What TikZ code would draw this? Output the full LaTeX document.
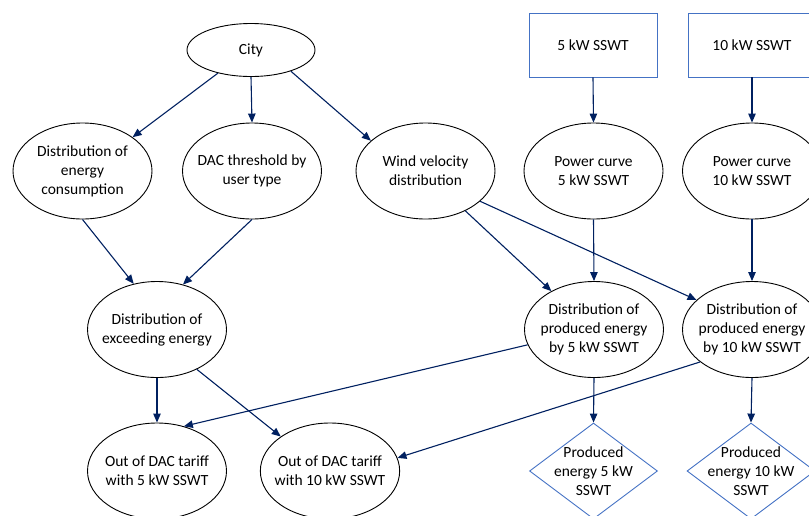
\documentclass[tikz,border=0pt]{standalone}
\usepackage{fontspec}
\setmainfont{Carlito}
\usetikzlibrary{arrows.meta,shapes.geometric}

\definecolor{navy}{RGB}{0,32,96}
\definecolor{boxblue}{RGB}{68,114,196}

\begin{document}
\begin{tikzpicture}[
        x=1pt, y=-1pt,
        every node/.style={font=\fontsize{15.5}{19}\selectfont, align=center},
        event/.style={ellipse, draw=black, line width=0.9pt, inner sep=-6pt,
            minimum width=139pt, minimum height=96pt},
        source/.style={rectangle, draw=boxblue, line width=0.9pt,
            minimum width=128pt, minimum height=64pt},
        outcome/.style={diamond, draw=boxblue, line width=0.9pt, inner sep=0pt,
            minimum width=128pt, minimum height=96pt},
        link/.style={draw=navy, line width=1.1pt, -{Triangle[length=9pt,width=7.5pt]}}
    ]
    \useasboundingbox (0,0) rectangle (809,515);
    \clip (0,0) rectangle (809,515);

    % Top row
    \node[event, minimum width=128pt, minimum height=53pt] (city) at (251,50) {City};
    \node[source] (kw5) at (593,45) {5 kW SSWT};
    \node[source] (kw10) at (752,45) {10 kW SSWT};

    % Second row
    \node[event] (cons) at (82.5,171) {Distribution of\\energy\\consumption};
    \node[event] (dac) at (252,171) {DAC threshold by\\user type};
    \node[event] (wind) at (425.5,171) {Wind velocity\\distribution};
    \node[event] (pc5) at (593.5,171) {Power curve\\5 kW SSWT};
    \node[event] (pc10) at (752,171) {Power curve\\10 kW SSWT};

    % Third row
    \node[event] (exc) at (157,329.5) {Distribution of\\exceeding energy};
    \node[event] (prod5) at (594,329.5) {Distribution of\\produced energy\\by 5 kW SSWT};
    \node[event] (prod10) at (752,329.5) {Distribution of\\produced energy\\by 10 kW SSWT};

    % Bottom row
    \node[event] (out5) at (157,471) {Out of DAC tariff\\with 5 kW SSWT};
    \node[event] (out10) at (330,471) {Out of DAC tariff\\with 10 kW SSWT};
    \node[outcome, label={center:Produced\\energy 5 kW\\SSWT}] (dia5) at (593.5,471) {};
    \node[outcome, label={center:Produced\\energy 10 kW\\SSWT}] (dia10) at (751,471) {};

    % Straight down
    \foreach \a/\b in {city/dac,kw5/pc5,kw10/pc10,pc5/prod5,pc10/prod10,
                       exc/out5,prod5/dia5,prod10/dia10}
        \draw[link] (\a.south) -- (\b.north);

    % Slanted links
    \draw[link] (city.215) -- (cons.34);
    \draw[link] (city.-28) -- (wind.151);
    \draw[link] (cons.south) -- (exc.117);
    \draw[link] (dac.south) -- (exc.60);
    \draw[link] (wind.-45) -- (prod5.138);
    \draw[link] (wind.-29) -- (prod10.152);
    \draw[link] (exc.-45) -- (out10.145);
    \draw[link] (prod5.193) -- (out5.59);
    \draw[link] (prod10.212) -- (out10.11);

\end{tikzpicture}
\end{document}
